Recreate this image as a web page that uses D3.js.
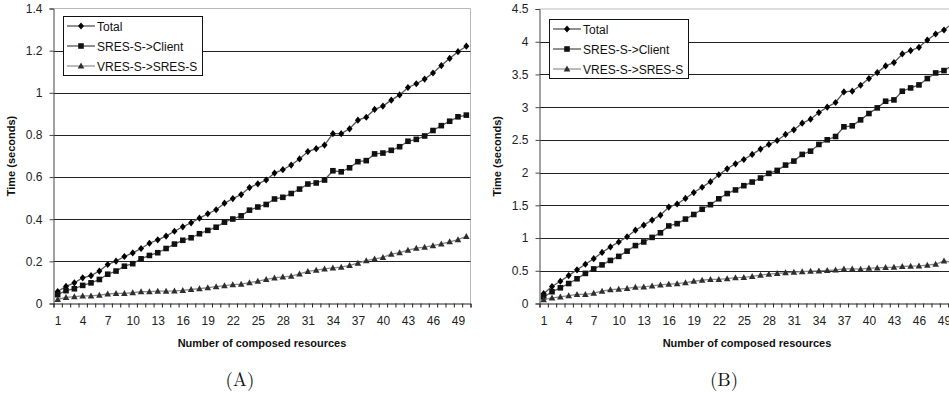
<!DOCTYPE html>
<html>
<head>
<meta charset="utf-8">
<script src="https://cdn.jsdelivr.net/npm/d3@7"></script>
<style>
  html, body { margin: 0; padding: 0; background: #fff; }
  svg { display: block; }
</style>
</head>
<body>
<svg id="chart" width="949" height="395"></svg>
<script>
// categories (number of composed resources)
const categories = [1,2,3,4,5,6,7,8,9,10,11,12,13,14,15,16,17,18,19,20,21,22,23,24,25,
  26,27,28,29,30,31,32,33,34,35,36,37,38,39,40,41,42,43,44,45,46,47,48,49,50]
const xTickLabels = [1,4,7,10,13,16,19,22,25,28,31,34,37,40,43,46,49]
const seriesNames = ["Total", "SRES-S->Client", "VRES-S->SRES-S"]

// chart A
const yTicksA = [0, 0.2, 0.4, 0.6, 0.8, 1, 1.2, 1.4]
const totalA = [0.057,0.081,0.098,0.122,0.132,0.154,0.185,0.201,0.223,0.240,0.261,0.286,0.302,0.320,0.343,0.364,0.383,0.405,0.426,0.445,
  0.476,0.498,0.517,0.550,0.568,0.586,0.619,0.635,0.657,0.686,0.721,0.735,0.752,0.806,0.806,0.829,0.870,0.884,0.921,0.937,
  0.965,0.990,1.025,1.043,1.065,1.094,1.129,1.163,1.195,1.221]
const sresA = [0.042,0.061,0.070,0.086,0.098,0.114,0.139,0.154,0.177,0.189,0.212,0.228,0.241,0.261,0.282,0.300,0.312,0.331,0.347,0.362,
  0.386,0.401,0.416,0.443,0.458,0.470,0.496,0.504,0.522,0.543,0.567,0.572,0.586,0.630,0.625,0.644,0.673,0.678,0.710,0.714,
  0.727,0.744,0.770,0.779,0.795,0.821,0.844,0.865,0.886,0.894]
const vresA = [0.019,0.029,0.033,0.036,0.036,0.040,0.045,0.048,0.048,0.051,0.056,0.056,0.059,0.059,0.060,0.062,0.067,0.070,0.075,0.080,
  0.085,0.090,0.092,0.099,0.106,0.114,0.122,0.126,0.130,0.141,0.152,0.158,0.164,0.169,0.173,0.181,0.192,0.203,0.212,0.219,
  0.234,0.241,0.253,0.263,0.268,0.275,0.283,0.293,0.303,0.319]

// chart B
const yTicksB = [0, 0.5, 1, 1.5, 2, 2.5, 3, 3.5, 4, 4.5]
const totalB = [0.15,0.26,0.34,0.426,0.515,0.60,0.685,0.78,0.865,0.94,1.02,1.12,1.197,1.275,1.35,1.473,1.52,1.605,1.695,1.776,
  1.862,1.967,2.058,2.135,2.20,2.278,2.359,2.430,2.491,2.583,2.654,2.755,2.816,2.918,3.000,3.071,3.233,3.244,3.335,3.437,
  3.528,3.630,3.681,3.813,3.864,3.915,4.026,4.118,4.179,4.281]
const sresB = [0.10,0.18,0.24,0.305,0.378,0.46,0.528,0.59,0.658,0.72,0.80,0.885,0.94,1.01,1.08,1.185,1.22,1.29,1.36,1.44,
  1.51,1.60,1.68,1.735,1.80,1.856,1.917,1.988,2.034,2.115,2.176,2.278,2.328,2.430,2.501,2.552,2.700,2.715,2.806,2.903,
  2.989,3.091,3.111,3.244,3.294,3.340,3.437,3.523,3.559,3.635]
const vresB = [0.06,0.085,0.10,0.12,0.14,0.14,0.16,0.19,0.21,0.22,0.23,0.25,0.255,0.27,0.285,0.295,0.305,0.32,0.34,0.355,
  0.37,0.37,0.38,0.395,0.40,0.415,0.435,0.45,0.46,0.47,0.478,0.488,0.495,0.50,0.505,0.512,0.53,0.53,0.525,0.54,
  0.545,0.55,0.556,0.565,0.57,0.575,0.585,0.60,0.65,0.63]

const svg = d3.select("#chart")
const sans = "'Liberation Sans', Arial, sans-serif"

// marker shapes, centred on 0,0
const markers = {
  diamond: "M0,-3.6L3,0L0,3.6L-3,0Z",
  square: "M-2.8,-2.8H2.8V2.8H-2.8Z",
  triangle: "M0,-3.4L3.3,2.6H-3.3Z"
}
const styles = [
  {marker: "diamond", line: "#555", fill: "#000"},
  {marker: "square", line: "#555", fill: "#111"},
  {marker: "triangle", line: "#888", fill: "#2e2e2e"}
]

function drawChart(cfg) {
  const g = svg.append("g").style("font-family", sans)

  const x = d3.scaleLinear().domain([0.5, categories.length + 0.5]).range([cfg.left, cfg.right])
  const y = d3.scaleLinear().domain([0, cfg.yTicks[cfg.yTicks.length - 1]]).range([cfg.bottom, cfg.top])

  // plot area frame (top + right, light grey)
  g.append("path")
    .attr("d", `M${cfg.left},${cfg.top}H${cfg.right}V${cfg.bottom}`)
    .attr("fill", "none").attr("stroke", "#b8b8b8").attr("stroke-width", 1)

  // gridlines
  g.selectAll(".grid").data(cfg.yTicks.slice(1, -1)).join("line")
    .attr("x1", cfg.left).attr("x2", cfg.right)
    .attr("y1", d => Math.round(y(d)) + 0.5).attr("y2", d => Math.round(y(d)) + 0.5)
    .attr("stroke", "#222").attr("stroke-width", 1)

  // y axis
  const yAxis = g.append("g")
    .attr("transform", `translate(${cfg.left},0)`)
    .call(d3.axisLeft(y).tickValues(cfg.yTicks).tickSize(4).tickPadding(7).tickFormat(d => String(d)))
  yAxis.select(".domain").attr("stroke", "#444")
  yAxis.selectAll(".tick line").attr("stroke", "#444")
  yAxis.selectAll("text").attr("font-size", 12).attr("fill", "#222").attr("font-family", sans)

  // x axis: tick marks at category boundaries
  const bounds = categories.map(c => c - 0.5).concat([categories.length + 0.5])
  const xAxis = g.append("g")
    .attr("transform", `translate(0,${cfg.bottom})`)
    .call(d3.axisBottom(x).tickValues(bounds).tickSize(4).tickFormat(""))
  xAxis.select(".domain").attr("stroke", "#222")
  xAxis.selectAll(".tick line").attr("stroke", "#222")

  // x labels every third category
  const xLabels = g.append("g")
    .attr("transform", `translate(0,${cfg.bottom})`)
    .call(d3.axisBottom(x).tickValues(xTickLabels).tickSize(0).tickPadding(13))
  xLabels.select(".domain").remove()
  xLabels.selectAll("text").attr("font-size", 12).attr("fill", "#222").attr("font-family", sans)

  // series
  cfg.series.forEach((vals, si) => {
    const st = styles[si]
    const pts = vals.map((v, i) => [x(categories[i]), y(v)])
    g.append("path")
      .attr("d", d3.line()(pts))
      .attr("fill", "none").attr("stroke", st.line).attr("stroke-width", 1.3)
    g.selectAll(null).data(pts).join("path")
      .attr("transform", d => `translate(${d[0]},${d[1]})`)
      .attr("d", markers[st.marker])
      .attr("fill", st.fill)
  })

  // axis titles
  g.append("text")
    .attr("transform", `translate(${cfg.left - 39},${(cfg.top + cfg.bottom) / 2}) rotate(-90)`)
    .attr("text-anchor", "middle").attr("font-size", 11).attr("font-weight", "bold").attr("fill", "#111")
    .text("Time (seconds)")
  g.append("text")
    .attr("x", cfg.titleX).attr("y", 347)
    .attr("text-anchor", "middle").attr("font-size", 11).attr("font-weight", "bold").attr("fill", "#111")
    .text("Number of composed resources")

  // legend
  const lg = g.append("g").attr("transform", `translate(${cfg.legendX},${cfg.legendY})`)
  lg.append("rect").attr("x", 0.5).attr("y", 0.5).attr("width", 139).attr("height", 59)
    .attr("fill", "#fff").attr("stroke", "#111")
  seriesNames.forEach((name, i) => {
    const st = styles[i]
    const ly = 10 + i * 20
    lg.append("line").attr("x1", 4).attr("x2", 32).attr("y1", ly).attr("y2", ly)
      .attr("stroke", i === 2 ? "#777" : "#222").attr("stroke-width", 1)
    lg.append("path").attr("transform", `translate(18,${ly})`).attr("d", markers[st.marker]).attr("fill", st.fill)
    lg.append("text").attr("x", 34).attr("y", ly + 4.5).attr("font-size", 12).attr("fill", "#111").text(name)
  })

  // caption
  svg.append("text")
    .attr("x", cfg.captionX).attr("y", 386)
    .attr("text-anchor", "middle")
    .style("font-family", "'Latin Modern Roman', 'Liberation Serif', 'DejaVu Serif', serif")
    .attr("font-size", 19).attr("fill", "#111")
    .text(cfg.caption)
}

drawChart({
  left: 53.5, right: 470.5, top: 8.5, bottom: 303.5,
  yTicks: yTicksA, series: [totalA, sresA, vresA],
  legendX: 63, legendY: 16, titleX: 262, captionX: 240, caption: "(A)"
})

drawChart({
  left: 539.5, right: 956.5, top: 9, bottom: 303.5,
  yTicks: yTicksB, series: [totalB, sresB, vresB],
  legendX: 549, legendY: 19, titleX: 747, captionX: 724, caption: "(B)"
})
</script>
</body>
</html>
